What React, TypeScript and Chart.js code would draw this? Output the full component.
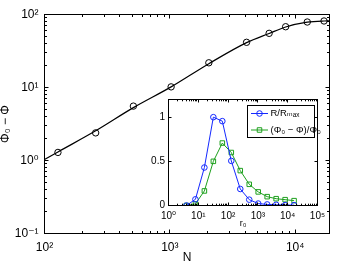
import React, { useEffect, useRef } from 'react';
import { Chart, registerables } from 'chart.js';

Chart.register(...registerables);

const FONT = '"Liberation Sans", "DejaVu Sans", Arial, sans-serif';

// ---- Main plot data ----
const N_SAMPLES = [128, 256, 512, 1024, 2048, 4096, 6200, 8400, 12500, 17000];
const DPHI_SAMPLES = [1.29, 2.39, 5.56, 10.2, 21.8, 41.6, 55.2, 68, 78.9, 81.5];
const N_FIT = [100, 128, 256, 512, 1024, 2048, 4096, 6200, 8400, 12500, 17000, 18800];
const DPHI_FIT = [1.03, 1.31, 2.55, 5.3, 10.2, 21.2, 41.2, 55.0, 67.5, 78.5, 81.5, 81.7];

const MAIN_X_TICKS = [100, 1000, 10000];
const MAIN_X_LABELS = ['10²', '10³', '10⁴'];
const MAIN_Y_TICKS = [0.1, 1, 10, 100];
const MAIN_Y_LABELS = ['10⁻¹', '10⁰', '10¹', '10²'];
const MAIN_X_TITLE = 'N';
const MAIN_Y_TITLE = 'Φ₀ − Φ';

// ---- Inset data ----
const R0 = [4, 8, 16, 32, 64, 128, 256, 512, 1024, 2048, 4096, 8192, 16384];
const R_NORM = [0, 0.07, 0.43, 1.0, 0.955, 0.505, 0.187, 0.066, 0.022, 0.012, 0.008, 0.005, 0.004];
const PHI_NORM = [0, 0.018, 0.165, 0.5, 0.707, 0.6, 0.395, 0.24, 0.154, 0.1, 0.077, 0.066, 0.055];
const SERIES_LABELS = ['R/Rₘₐₓ', '(Φ₀ − Φ)/Φ₀'];

const INSET_X_TICKS = [1, 10, 100, 1000, 10000, 100000];
const INSET_X_LABELS = ['10⁰', '10¹', '10²', '10³', '10⁴', '10⁵'];
const INSET_Y_TICKS = [0, 0.5, 1];
const INSET_Y_LABELS = ['0', '0.5', '1'];
const INSET_X_TITLE = 'r₀';

const BLUE = 'rgb(20,40,255)';
const GREEN = 'rgb(30,160,30)';

function logTickList(majors: number[], min: number, max: number) {
  const out: { value: number }[] = [];
  for (const m of majors) {
    for (let k = 1; k <= 9; k++) {
      const v = m * k;
      if (v >= min * 0.999999 && v <= max * 1.000001) out.push({ value: v });
    }
  }
  return out;
}

function labelFor(v: number, ticks: number[], labels: string[]) {
  const i = ticks.findIndex((t) => Math.abs(t - v) < 1e-9 * Math.max(1, Math.abs(t)));
  return i >= 0 ? labels[i] : '';
}

function isMajorLog(v: number) {
  const l = Math.log10(v);
  return Math.abs(l - Math.round(l)) < 1e-6;
}

const inwardTicks = {
  id: 'inwardTicks',
  afterDatasetsDraw(chart: any, _args: any, opts: any) {
    const { ctx, chartArea: a } = chart;
    const xs = chart.scales.x;
    const ys = chart.scales.y;
    ctx.save();
    ctx.strokeStyle = opts.color || '#000';
    ctx.lineWidth = 1;
    ctx.beginPath();
    for (const t of xs.ticks) {
      const p = xs.getPixelForValue(t.value);
      if (p < a.left - 0.6 || p > a.right + 0.6) continue;
      const px = Math.floor(p) + 0.5;
      const major = xs.type === 'logarithmic' ? isMajorLog(t.value) : true;
      const len = major ? opts.major : opts.minor;
      ctx.moveTo(px, a.bottom);
      ctx.lineTo(px, a.bottom - len);
      ctx.moveTo(px, a.top);
      ctx.lineTo(px, a.top + len);
    }
    for (const t of ys.ticks) {
      const p = ys.getPixelForValue(t.value);
      if (p < a.top - 0.6 || p > a.bottom + 0.6) continue;
      const py = Math.floor(p) + 0.5;
      const major = ys.type === 'logarithmic' ? isMajorLog(t.value) : true;
      const len = major ? opts.major : opts.minor;
      ctx.moveTo(a.left, py);
      ctx.lineTo(a.left + len, py);
      ctx.moveTo(a.right, py);
      ctx.lineTo(a.right - len, py);
    }
    ctx.stroke();
    ctx.strokeRect(a.left, a.top, a.right - a.left, a.bottom - a.top);
    ctx.restore();
  },
};

const whiteArea = {
  id: 'whiteArea',
  beforeDraw(chart: any) {
    const { ctx, chartArea: a } = chart;
    ctx.save();
    ctx.fillStyle = '#fff';
    ctx.fillRect(a.left, a.top, a.right - a.left, a.bottom - a.top);
    ctx.restore();
  },
};

const insetLegend = {
  id: 'insetLegend',
  afterDraw(chart: any, _args: any, opts: any) {
    const { ctx, chartArea: a } = chart;
    const w = opts.width;
    const h = opts.height;
    const left = Math.floor(a.right - opts.right - w) + 0.5;
    const top = Math.floor(a.top + opts.top) + 0.5;
    ctx.save();
    ctx.fillStyle = '#fff';
    ctx.fillRect(left, top, w, h);
    ctx.strokeStyle = '#000';
    ctx.lineWidth = 1;
    ctx.strokeRect(left, top, w, h);
    chart.data.datasets.forEach((ds: any, i: number) => {
      const y = top + opts.rows[i];
      ctx.strokeStyle = ds.borderColor;
      ctx.lineWidth = ds.borderWidth;
      ctx.beginPath();
      ctx.moveTo(left + 3.5, y);
      ctx.lineTo(left + 20.5, y);
      ctx.stroke();
      const cx = left + 12;
      const r = ds.pointRadius;
      ctx.beginPath();
      if (ds.pointStyle === 'rect') {
        const s = r * Math.SQRT1_2;
        ctx.rect(cx - s, y - s, 2 * s, 2 * s);
      } else {
        ctx.arc(cx, y, r, 0, Math.PI * 2);
      }
      ctx.stroke();
      ctx.fillStyle = '#000';
      ctx.font = `${opts.fontSize}px ${FONT}`;
      ctx.textBaseline = 'middle';
      ctx.textAlign = 'left';
      ctx.fillText(ds.label, left + 23, y);
    });
    ctx.restore();
  },
};

export default function App() {
  const mainRef = useRef<HTMLCanvasElement>(null);
  const insetRef = useRef<HTMLCanvasElement>(null);

  useEffect(() => {
    const main = new Chart(mainRef.current as HTMLCanvasElement, {
      type: 'line',
      data: {
        datasets: [
          {
            label: 'fit',
            data: N_FIT.map((n, i) => ({ x: n, y: DPHI_FIT[i] })),
            borderColor: '#000',
            borderWidth: 1.2,
            pointRadius: 0,
            cubicInterpolationMode: 'monotone',
            fill: false,
          },
          {
            label: 'data',
            data: N_SAMPLES.map((n, i) => ({ x: n, y: DPHI_SAMPLES[i] })),
            showLine: false,
            borderColor: '#000',
            pointBorderColor: '#000',
            pointBackgroundColor: 'rgba(0,0,0,0)',
            pointBorderWidth: 1,
            pointRadius: 3.2,
            pointStyle: 'circle',
          },
        ],
      } as any,
      options: {
        responsive: false,
        animation: false,
        devicePixelRatio: 1,
        layout: { padding: { top: 14.5, right: 20.5, left: 0, bottom: 0 } },
        plugins: {
          legend: { display: false },
          tooltip: { enabled: false },
          inwardTicks: { major: 4, minor: 2.5, color: '#000' },
        } as any,
        scales: {
          x: {
            type: 'logarithmic',
            position: 'bottom',
            min: 100,
            max: 18800,
            grid: { display: false, drawTicks: false },
            border: { display: false },
            afterBuildTicks: (s: any) => {
              s.ticks = logTickList(MAIN_X_TICKS, 100, 18800);
            },
            afterFit: (s: any) => {
              s.height = 33.5;
            },
            ticks: {
              autoSkip: false,
              maxRotation: 0,
              minRotation: 0,
              padding: 6.5,
              color: '#000',
              font: { family: FONT, size: 12 },
              callback: (v: any) => labelFor(Number(v), MAIN_X_TICKS, MAIN_X_LABELS),
            },
            title: {
              display: true,
              text: MAIN_X_TITLE,
              color: '#000',
              font: { family: FONT, size: 12 },
              padding: { top: 0, bottom: 2.3 },
            },
          },
          y: {
            type: 'logarithmic',
            position: 'left',
            min: 0.1,
            max: 100,
            grid: { display: false, drawTicks: false },
            border: { display: false },
            afterBuildTicks: (s: any) => {
              s.ticks = logTickList(MAIN_Y_TICKS, 0.1, 100);
            },
            afterFit: (s: any) => {
              s.width = 44.5;
            },
            ticks: {
              autoSkip: false,
              padding: 6,
              color: '#000',
              font: { family: FONT, size: 12 },
              callback: (v: any) => labelFor(Number(v), MAIN_Y_TICKS, MAIN_Y_LABELS),
            },
            title: {
              display: true,
              text: MAIN_Y_TITLE,
              color: '#000',
              font: { family: FONT, size: 12, lineHeight: 1 },
              padding: { top: 0, bottom: 0 },
            },
          },
        },
      } as any,
      plugins: [inwardTicks],
    });

    const inset = new Chart(insetRef.current as HTMLCanvasElement, {
      type: 'line',
      data: {
        datasets: [
          {
            label: SERIES_LABELS[0],
            data: R0.map((r, i) => ({ x: r, y: R_NORM[i] })),
            borderColor: BLUE,
            borderWidth: 1,
            pointStyle: 'circle',
            pointRadius: 2.8,
            pointBorderColor: BLUE,
            pointBackgroundColor: 'rgba(0,0,0,0)',
            pointBorderWidth: 1,
            tension: 0,
            fill: false,
          },
          {
            label: SERIES_LABELS[1],
            data: R0.map((r, i) => ({ x: r, y: PHI_NORM[i] })),
            borderColor: GREEN,
            borderWidth: 1,
            pointStyle: 'rect',
            pointRadius: 3.2,
            pointBorderColor: GREEN,
            pointBackgroundColor: 'rgba(0,0,0,0)',
            pointBorderWidth: 1,
            tension: 0,
            fill: false,
          },
        ],
      } as any,
      options: {
        responsive: false,
        animation: false,
        devicePixelRatio: 1,
        layout: { padding: { top: 6.5, right: 12.5, left: 0, bottom: 0 } },
        plugins: {
          legend: { display: false },
          tooltip: { enabled: false },
          inwardTicks: { major: 3, minor: 1.8, color: '#000' },
          insetLegend: { width: 67, height: 32, right: 3.5, top: 5.5, rows: [8, 24.5], fontSize: 9.5 },
        } as any,
        scales: {
          x: {
            type: 'logarithmic',
            position: 'bottom',
            min: 1,
            max: 100000,
            grid: { display: false, drawTicks: false },
            border: { display: false },
            afterBuildTicks: (s: any) => {
              s.ticks = logTickList(INSET_X_TICKS, 1, 100000);
            },
            afterFit: (s: any) => {
              s.height = 39.5;
            },
            ticks: {
              autoSkip: false,
              maxRotation: 0,
              minRotation: 0,
              padding: 4.5,
              color: '#000',
              font: { family: FONT, size: 10 },
              callback: (v: any) => labelFor(Number(v), INSET_X_TICKS, INSET_X_LABELS),
            },
            title: {
              display: true,
              text: INSET_X_TITLE,
              color: '#000',
              font: { family: FONT, size: 9 },
              padding: { top: 0, bottom: 15.6 },
            },
          },
          y: {
            type: 'linear',
            position: 'left',
            min: 0,
            max: 1.2,
            grid: { display: false, drawTicks: false },
            border: { display: false },
            afterBuildTicks: (s: any) => {
              s.ticks = INSET_Y_TICKS.map((v) => ({ value: v }));
            },
            afterFit: (s: any) => {
              s.width = 23.5;
            },
            ticks: {
              autoSkip: false,
              padding: 3.5,
              color: '#000',
              font: { family: FONT, size: 10 },
              callback: (v: any) => labelFor(Number(v), INSET_Y_TICKS, INSET_Y_LABELS),
            },
          },
        },
      } as any,
      plugins: [whiteArea, inwardTicks, insetLegend],
    });

    return () => {
      main.destroy();
      inset.destroy();
    };
  }, []);

  return (
    <div style={{ position: 'absolute', left: 0, top: 0, width: 350, height: 267, background: '#fff' }}>
      <canvas
        ref={mainRef}
        width={350}
        height={267}
        style={{ position: 'absolute', left: 0, top: 0, width: 350, height: 267 }}
      />
      <canvas
        ref={insetRef}
        width={185}
        height={155}
        style={{ position: 'absolute', left: 145, top: 90, width: 185, height: 155 }}
      />
    </div>
  );
}
